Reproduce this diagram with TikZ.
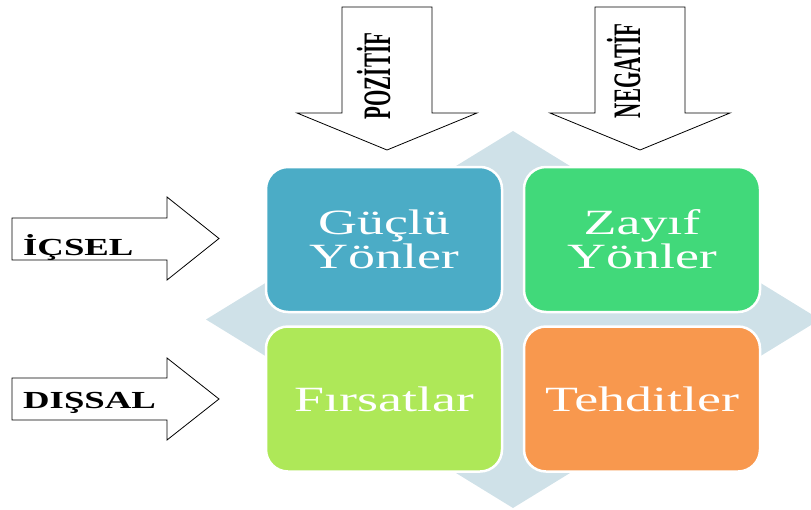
\documentclass[tikz,border=0pt]{standalone}
\usepackage{fontspec}
\setmainfont{Liberation Serif}
\definecolor{bgdiam}{RGB}{207,225,232}
\definecolor{cS}{RGB}{75,172,198}
\definecolor{cW}{RGB}{65,217,122}
\definecolor{cO}{RGB}{174,232,88}
\definecolor{cT}{RGB}{248,152,78}
\newcommand\widetxt[1]{\scalebox{1.52}[1]{#1}}
\newcommand\widebold[1]{\scalebox{1.5}[1]{#1}}
\newcommand\tallbold[1]{\scalebox{1}[1.85]{#1}}
\begin{document}
\begin{tikzpicture}[x=1pt,y=-1pt,
  quad/.style={draw=white, line width=2.5pt, rounded corners=22pt,
    minimum width=236pt, minimum height=145pt, inner sep=0pt,
    text=white, font=\fontsize{35.5}{34}\selectfont, align=center},
  blockarrow/.style={draw=black, fill=white, line width=0.8pt, line join=miter},
  sidelabel/.style={font=\fontsize{24.5}{24}\selectfont\bfseries, anchor=base west, inner sep=0pt},
  toplabel/.style={font=\fontsize{21}{21}\selectfont\bfseries, anchor=base, rotate=90, inner sep=0pt}]
\useasboundingbox (0,0) rectangle (811,509);
% background diamond
\begin{scope}
  \clip (0,0) rectangle (811,509);
  \fill[bgdiam] (513,131) -- (820,319.5) -- (513,508) -- (206,319.5) -- cycle;
\end{scope}
% quadrant boxes
\node[quad, fill=cS] (S) at (384,239.5) {\widetxt{Güçlü}\\\widetxt{Yönler}};
\node[quad, fill=cW] (W) at (642,239.5) {\widetxt{Zayıf}\\\widetxt{Yönler}};
\node[quad, fill=cO] (O) at (384,399) {\widetxt{Fırsatlar}};
\node[quad, fill=cT] (T) at (642,399) {\widetxt{Tehditler}};
% top block arrows
\draw[blockarrow] (342,7) -- (432,7) -- (432,113) -- (477,113) -- (387,150) -- (297,113) -- (342,113) -- cycle;
\draw[blockarrow] (595,7) -- (685,7) -- (685,113) -- (730,113) -- (640,150) -- (550,113) -- (595,113) -- cycle;
\node[toplabel] (poz) at (390,76) {\tallbold{POZİTİF}};
\node[toplabel] (neg) at (640,71) {\tallbold{NEGATİF}};
% side block arrows
\draw[blockarrow] (12,218) -- (167,218) -- (167,197) -- (219,238.5) -- (167,280) -- (167,260) -- (12,260) -- cycle;
\draw[blockarrow] (12,378) -- (167,378) -- (167,358) -- (219,399) -- (167,440) -- (167,420) -- (12,420) -- cycle;
\node[sidelabel] (ic) at (23,255) {\widebold{İÇSEL}};
\node[sidelabel] (dis) at (23,408) {\widebold{DIŞSAL}};
\end{tikzpicture}
\end{document}
